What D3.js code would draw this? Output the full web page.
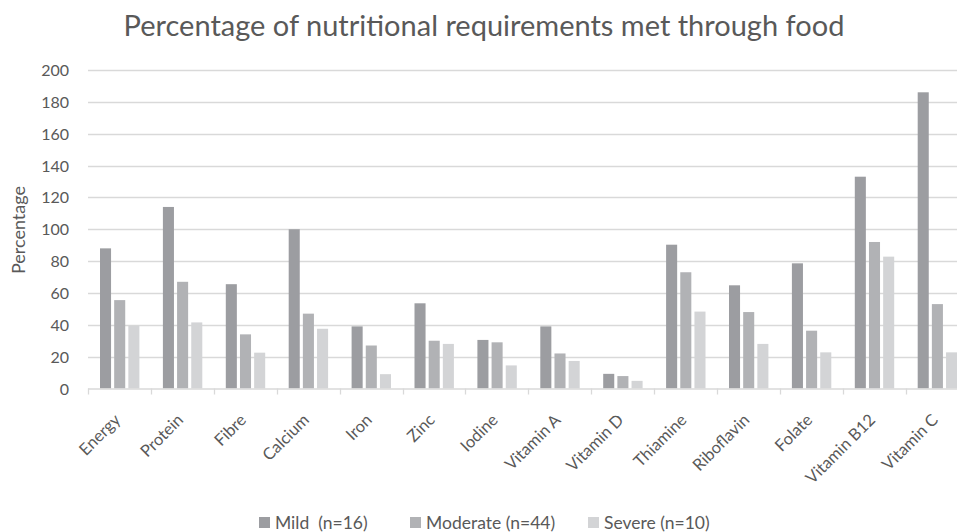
<!DOCTYPE html>
<html>
<head>
<meta charset="utf-8">
<script src="https://cdn.jsdelivr.net/npm/d3@7"></script>
<style>
  body { margin: 0; background: #fff; }
  svg { display: block; font-family: Lato, 'Open Sans', sans-serif; }
</style>
</head>
<body>
<div id="chart"></div>
<script>
const categories = ['Energy', 'Protein', 'Fibre', 'Calcium', 'Iron', 'Zinc', 'Iodine', 'Vitamin A',
  'Vitamin D', 'Thiamine', 'Riboflavin', 'Folate', 'Vitamin B12', 'Vitamin C']
const seriesNames = ['Mild  (n=16)', 'Moderate (n=44)', 'Severe (n=10)']
const mild = [88, 114, 65.5, 100, 39, 53.5, 30.5, 39, 9.2, 90.3, 64.8, 78.6, 133, 186]
const moderate = [55.5, 67, 34, 47, 27, 30, 29, 22, 7.8, 73, 48, 36.3, 92, 53]
const severe = [39.5, 41.5, 22.5, 37.5, 9, 28, 14.5, 17.3, 4.8, 48.3, 28, 22.7, 82.8, 22.7]
const yTicks = [0, 20, 40, 60, 80, 100, 120, 140, 160, 180, 200]

const colors = ['#9c9da1', '#b1b2b5', '#d3d4d6']
const series = [mild, moderate, severe]

const width = 957
const height = 532
const margin = { top: 70, left: 88 }
const plotBottom = 388.5
const bandWidth = 62.9

const svg = d3.select('#chart')
  .append('svg')
  .attr('width', width)
  .attr('height', height)

svg.append('text')
  .attr('x', 484)
  .attr('y', 36)
  .attr('text-anchor', 'middle')
  .attr('fill', '#595959')
  .attr('font-size', 29)
  .text('Percentage of nutritional requirements met through food')

const x0 = d3.scaleBand()
  .domain(categories)
  .range([margin.left, margin.left + bandWidth * categories.length])

const x1 = d3.scaleBand()
  .domain(d3.range(series.length))
  .range([12, bandWidth - 11.5])
  .paddingInner(0.22)

const y = d3.scaleLinear()
  .domain([0, 200])
  .range([plotBottom, margin.top])

// grid
svg.append('g')
  .selectAll('line')
  .data(yTicks.filter(d => d > 0))
  .enter()
  .append('line')
  .attr('x1', margin.left)
  .attr('x2', width)
  .attr('y1', d => Math.round(y(d)) + 0.5)
  .attr('y2', d => Math.round(y(d)) + 0.5)
  .attr('stroke', '#d9d9d9')
  .attr('stroke-width', 1.3)

// y labels
svg.append('g')
  .selectAll('text')
  .data(yTicks)
  .enter()
  .append('text')
  .attr('x', 69)
  .attr('y', d => y(d) + 6)
  .attr('text-anchor', 'end')
  .attr('fill', '#595959')
  .attr('font-size', 16)
  .text(d => d)

svg.append('text')
  .attr('transform', 'translate(25,230) rotate(-90)')
  .attr('text-anchor', 'middle')
  .attr('fill', '#595959')
  .attr('font-size', 18)
  .text('Percentage')

// bars
const groups = svg.append('g')
  .selectAll('g')
  .data(categories)
  .enter()
  .append('g')
  .attr('transform', d => `translate(${x0(d)},0)`)

groups.selectAll('rect')
  .data((d, i) => series.map((s, j) => ({ j, v: s[i] })))
  .enter()
  .append('rect')
  .attr('x', d => x1(d.j))
  .attr('width', x1.bandwidth())
  .attr('y', d => y(d.v))
  .attr('height', d => plotBottom - y(d.v))
  .attr('fill', d => colors[d.j])

// x axis
const xAxis = svg.append('g')
xAxis.append('line')
  .attr('x1', margin.left)
  .attr('x2', width)
  .attr('y1', plotBottom + 0.5)
  .attr('y2', plotBottom + 0.5)
  .attr('stroke', '#d9d9d9')
  .attr('stroke-width', 1.3)

xAxis.selectAll('.tick')
  .data(categories)
  .enter()
  .append('line')
  .attr('x1', d => Math.round(x0(d)) + 0.5)
  .attr('x2', d => Math.round(x0(d)) + 0.5)
  .attr('y1', plotBottom)
  .attr('y2', plotBottom + 6)
  .attr('stroke', '#d9d9d9')
  .attr('stroke-width', 1.3)

xAxis.selectAll('text')
  .data(categories)
  .enter()
  .append('text')
  .attr('transform', d => `translate(${x0(d) + bandWidth / 2 + 2},421) rotate(-45)`)
  .attr('text-anchor', 'end')
  .attr('fill', '#595959')
  .attr('font-size', 16.5)
  .text(d => d)

// legend
const legendX = [259, 410, 588]
const legend = svg.append('g')
  .selectAll('g')
  .data(seriesNames)
  .enter()
  .append('g')
  .attr('transform', (d, i) => `translate(${legendX[i]},517)`)

legend.append('rect')
  .attr('width', 11)
  .attr('height', 11)
  .attr('fill', (d, i) => colors[i])

legend.append('text')
  .attr('x', 16)
  .attr('y', 11.5)
  .attr('fill', '#595959')
  .attr('font-size', 17.5)
  .style('white-space', 'pre')
  .text(d => d)
</script>
</body>
</html>
